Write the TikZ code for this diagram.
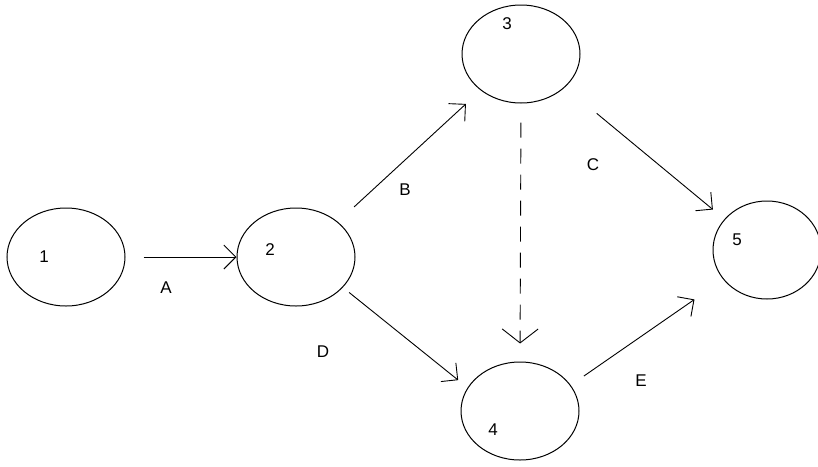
\documentclass[tikz,border=0pt]{standalone}
\usepackage{fontspec}
\setmainfont{Liberation Sans}
\usetikzlibrary{arrows.meta,shapes.geometric}

\begin{document}
\begin{tikzpicture}[
  x=1pt, y=-1pt,
  font=\fontsize{17}{19}\selectfont,
  >={Straight Barb[length=12pt,width=24pt]},
  event/.style={draw, ellipse, line width=1pt, inner sep=0pt,
                minimum width=118pt, minimum height=98pt},
  num/.style={inner sep=0pt},
  act/.style={->, line width=0.9pt},
  dummy/.style={-{Straight Barb[length=14pt,width=36pt]}, line width=0.9pt,
                dash pattern=on 15pt off 11pt},
]
\useasboundingbox (0,0) rectangle (818,466);

% ---------- events ----------
\node[event] (n1) at (66,257) {};
\node[event] (n2) at (296,257) {};
\node[event] (n3) at (521,54) {};
\node[event] (n4) at (520,411) {};
\node[event, minimum width=108pt] (n5) at (767,250) {};

\node[num] (t1) at (44,257) {1};
\node[num] (t2) at (270,250) {2};
\node[num] (t3) at (507,24) {3};
\node[num] (t4) at (493,430) {4};
\node[num] (t5) at (737,240) {5};

% ---------- activities ----------
\draw[act, shorten <=18pt] (n1.east) -- (n2.west);
\draw[act, shorten <=22pt, shorten >=20pt] (n2.40) -- (n3.222.3);
\draw[act, shorten <=41pt, shorten >=15pt] (n3.-37.3) -- (n5.144.7);
\draw[act, shorten <=8pt, shorten >=12pt] (n2.-33.4) -- (n4.156.9);
\draw[act, shorten <=16pt, shorten >=35pt] (n4.27.6) -- (n5.214.2);
% dummy activity
\draw[dummy, shorten <=19pt, shorten >=18pt] (n3.south) -- (n4.north);

% ---------- activity labels ----------
\node[num] (la) at (166,288) {A};
\node[num] (lb) at (405,190) {B};
\node[num] (lc) at (593,165) {C};
\node[num] (ld) at (323,352) {D};
\node[num] (le) at (641,381) {E};

\end{tikzpicture}
\end{document}
